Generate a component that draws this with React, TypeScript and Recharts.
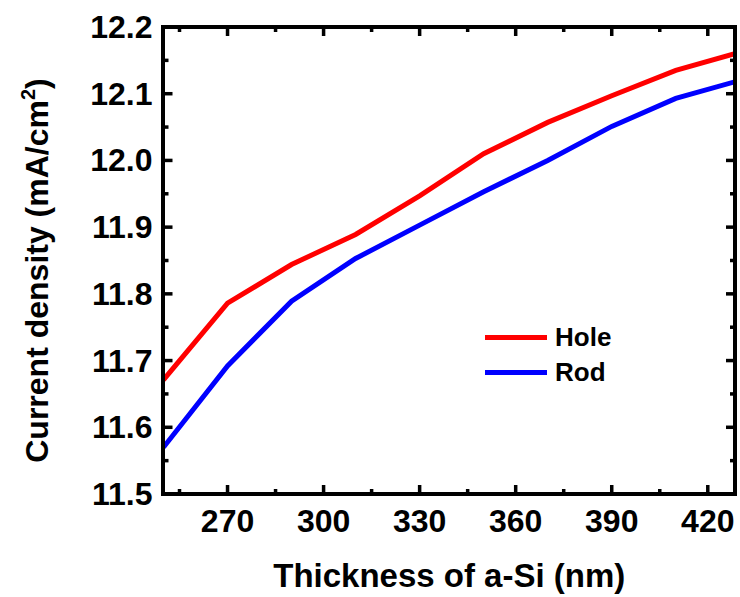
import { LineChart, Line, XAxis, YAxis, Legend, Label } from "recharts";

// Espessura do a-Si (nm) e densidade de corrente (mA/cm2)
const thickness = [250, 270, 290, 310, 330, 350, 370, 390, 410, 430];
const hole = [11.671, 11.786, 11.844, 11.889, 11.947, 12.01, 12.057, 12.097, 12.135, 12.162];
const rod = [11.57, 11.692, 11.789, 11.853, 11.903, 11.953, 12.0, 12.051, 12.093, 12.12];

const xTicks = [255, 270, 285, 300, 315, 330, 345, 360, 375, 390, 405, 420];
const xMajor = [270, 300, 330, 360, 390, 420];
const yTicks = [11.5, 11.55, 11.6, 11.65, 11.7, 11.75, 11.8, 11.85, 11.9, 11.95, 12.0, 12.05, 12.1, 12.15, 12.2];
const yMajor = ["11.5", "11.6", "11.7", "11.8", "11.9", "12.0", "12.1", "12.2"];

const xDomain = [250, 428.5];
const yDomain = [11.5, 12.2];

const data = thickness.map((x, i) => ({ x, hole: hole[i], rod: rod[i] }));

// layout
const W = 740;
const H = 597;
const MARGIN = { top: 27, right: 5, bottom: 0, left: 0 };
const Y_AXIS_W = 163.5;
const X_AXIS_H = 103;
const PLOT_W = W - MARGIN.left - MARGIN.right - Y_AXIS_W;
const PLOT_H = H - MARGIN.top - MARGIN.bottom - X_AXIS_H;
const FRAME_W = 4.5;

const FONT = '"Liberation Sans", Arial, sans-serif';
const MAJOR = 9;
const MINOR = 5;
const TICK_W = 3.5;

const isMajorY = (v: number) => yMajor.includes(v.toFixed(1)) && Math.abs(v * 10 - Math.round(v * 10)) < 1e-6;

// ticks para dentro (embaixo e espelhados em cima), rótulo só nos principais
function BottomTick({ x, y, payload }: any) {
  const major = xMajor.includes(payload.value);
  const len = major ? MAJOR : MINOR;
  const top = y - PLOT_H;
  return (
    <g>
      <rect x={x - TICK_W / 2} y={y - len} width={TICK_W} height={len} fill="#000" />
      <rect x={x - TICK_W / 2} y={top} width={TICK_W} height={len} fill="#000" />
      {major && (
        <text x={x} y={y + 38} textAnchor="middle" fontFamily={FONT} fontWeight="bold" fontSize={32} fill="#000">
          {payload.value}
        </text>
      )}
    </g>
  );
}

function LeftTick({ x, y, payload }: any) {
  const major = isMajorY(payload.value);
  const len = major ? MAJOR : MINOR;
  const right = x + PLOT_W;
  return (
    <g>
      <rect x={x} y={y - TICK_W / 2} width={len} height={TICK_W} fill="#000" />
      <rect x={right - len} y={y - TICK_W / 2} width={len} height={TICK_W} fill="#000" />
      {major && (
        <text x={x - 11} y={y + 11} textAnchor="end" fontFamily={FONT} fontWeight="bold" fontSize={32} fill="#000">
          {payload.value.toFixed(1)}
        </text>
      )}
    </g>
  );
}

function LegendBox({ payload }: any) {
  return (
    <div>
      {(payload || []).map((p: any) => (
        <div key={p.value} style={{ display: "flex", alignItems: "center", height: 35 }}>
          <div style={{ width: 62, height: 5, background: p.color, marginRight: 8 }} />
          <span style={{ fontFamily: FONT, fontWeight: "bold", fontSize: 26, lineHeight: "35px", color: "#000" }}>
            {p.value}
          </span>
        </div>
      ))}
    </div>
  );
}

export default function App() {
  return (
    <div style={{ position: "absolute", left: 0, top: 0, width: W, height: H, background: "#fff" }}>
      <LineChart width={W} height={H} data={data} margin={MARGIN}>
        <XAxis
          dataKey="x"
          type="number"
          domain={xDomain}
          allowDataOverflow
          ticks={xTicks}
          interval={0}
          height={X_AXIS_H}
          tickSize={0}
          tickMargin={0}
          tickLine={false}
          axisLine={false}
          tick={<BottomTick />}
        >
          <Label
            content={({ viewBox }: any) => (
              <text
                x={viewBox.x + viewBox.width / 2}
                y={viewBox.y + 93}
                textAnchor="middle"
                fontFamily={FONT}
                fontWeight="bold"
                fontSize={33}
                fill="#000"
              >
                Thickness of a-Si (nm)
              </text>
            )}
          />
        </XAxis>
        <YAxis
          type="number"
          domain={yDomain}
          ticks={yTicks}
          interval={0}
          width={Y_AXIS_W}
          tickSize={0}
          tickMargin={0}
          tickLine={false}
          axisLine={false}
          tick={<LeftTick />}
        >
          <Label
            content={({ viewBox }: any) => {
              const cy = viewBox.y + viewBox.height / 2 + 10;
              return (
                <text
                  transform={`translate(${viewBox.x + 48}, ${cy}) rotate(-90)`}
                  textAnchor="middle"
                  fontFamily={FONT}
                  fontWeight="bold"
                  fontSize={32}
                  fill="#000"
                >
                  Current density (mA/cm
                  <tspan dy={-13} fontSize={20}>2</tspan>
                  <tspan dy={13}>)</tspan>
                </text>
              );
            }}
          />
        </YAxis>
        <Legend
          layout="vertical"
          align="center"
          verticalAlign="middle"
          content={<LegendBox />}
          wrapperStyle={{ left: 485, top: 319.5, width: 160, height: 70 }}
        />
        <Line type="linear" dataKey="hole" name="Hole" stroke="#ff0000" strokeWidth={5} dot={false} isAnimationActive={false} />
        <Line type="linear" dataKey="rod" name="Rod" stroke="#0000ff" strokeWidth={5} dot={false} isAnimationActive={false} />
      </LineChart>
      {/* moldura preta grossa sobre a área do gráfico */}
      <div
        style={{
          position: "absolute",
          left: MARGIN.left + Y_AXIS_W - FRAME_W / 2,
          top: MARGIN.top - FRAME_W / 2,
          width: PLOT_W + FRAME_W,
          height: PLOT_H + FRAME_W,
          boxSizing: "border-box",
          border: `${FRAME_W}px solid #000`,
          pointerEvents: "none",
        }}
      />
    </div>
  );
}
